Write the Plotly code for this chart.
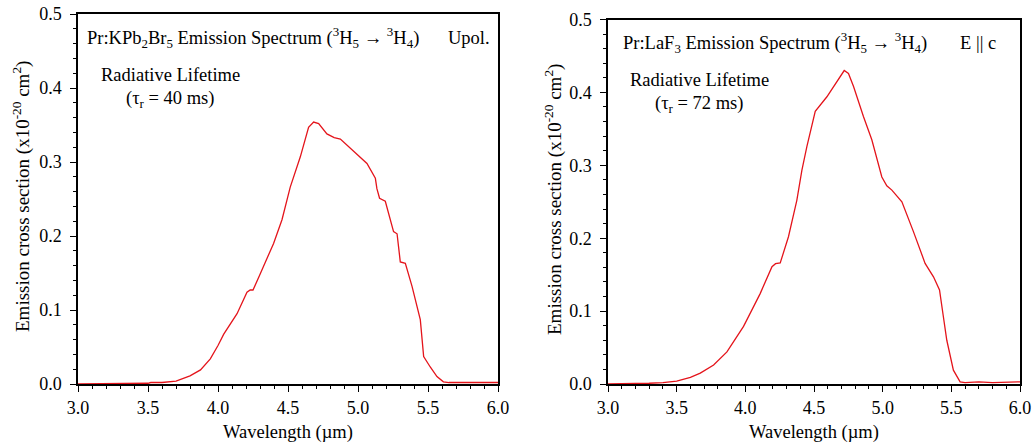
import plotly.graph_objects as go

# ---- data ----
wl_kpb = [3.0, 3.3, 3.5, 3.52, 3.6, 3.7, 3.75, 3.80, 3.875, 3.945, 4.0, 4.04, 4.136, 4.207,
          4.23, 4.25, 4.302, 4.397, 4.457, 4.516, 4.588, 4.647, 4.683, 4.719, 4.778, 4.83,
          4.874, 4.969, 5.064, 5.124, 5.135, 5.154, 5.18, 5.195, 5.254, 5.279, 5.29, 5.302,
          5.338, 5.386, 5.445, 5.469, 5.516, 5.564, 5.61, 5.65, 6.0]
sig_kpb = [0.0, 0.0, 0.001, 0.002, 0.002, 0.004, 0.007, 0.011, 0.019, 0.034, 0.052, 0.067,
           0.095, 0.124, 0.127, 0.127, 0.149, 0.190, 0.222, 0.266, 0.307, 0.347, 0.354,
           0.352, 0.338, 0.333, 0.331, 0.314, 0.298, 0.278, 0.264, 0.251, 0.249, 0.247,
           0.206, 0.203, 0.185, 0.165, 0.163, 0.132, 0.087, 0.037, 0.023, 0.010, 0.003,
           0.002, 0.002]

wl_laf = [3.0, 3.25, 3.3, 3.4, 3.5, 3.6, 3.672, 3.769, 3.866, 3.987, 4.108, 4.194, 4.22,
          4.254, 4.314, 4.375, 4.412, 4.448, 4.509, 4.594, 4.667, 4.72, 4.751, 4.788, 4.86,
          4.921, 4.994, 5.03, 5.067, 5.14, 5.224, 5.309, 5.37, 5.414, 5.44, 5.467, 5.515,
          5.564, 5.6, 5.7, 5.8, 5.9, 6.0]
sig_laf = [0.0, 0.0, 0.001, 0.002, 0.004, 0.009, 0.015, 0.026, 0.044, 0.079, 0.124, 0.161,
           0.165, 0.166, 0.202, 0.252, 0.2935, 0.3255, 0.374, 0.394, 0.415, 0.430, 0.426,
           0.408, 0.367, 0.335, 0.284, 0.272, 0.266, 0.250, 0.209, 0.1655, 0.147, 0.129,
           0.095, 0.060, 0.019, 0.003, 0.002, 0.003, 0.002, 0.003, 0.003]

x_ticks = [3.0, 3.5, 4.0, 4.5, 5.0, 5.5, 6.0]
y_ticks = [0.0, 0.1, 0.2, 0.3, 0.4, 0.5]

FONT = "Liberation Serif"
RED = "#e4141b"

fig = go.Figure()
fig.add_trace(go.Scatter(x=wl_kpb, y=sig_kpb, mode="lines", line=dict(color=RED, width=1.3),
                         xaxis="x", yaxis="y", showlegend=False))
fig.add_trace(go.Scatter(x=wl_laf, y=sig_laf, mode="lines", line=dict(color=RED, width=1.3),
                         xaxis="x2", yaxis="y2", showlegend=False))

W, H = 1035, 447
ML, MR, MT, MB = 78, 15, 14, 63
pw, ph = W - ML - MR, H - MT - MB

def xd(a, b):
    return [(a - ML) / pw, (b - ML) / pw]

def yd(top, bottom):
    return [(H - MB - bottom) / ph, (H - MB - top) / ph]

def axis_style(standoff):
    return dict(
        showline=True, linecolor="black", linewidth=1.5, mirror=True,
        ticks="outside", ticklen=6, tickwidth=1.3, tickcolor="black",
        showgrid=False, zeroline=False,
        tickfont=dict(family=FONT, size=18, color="black"),
        ticklabelstandoff=standoff,
        automargin=False,
    )

xminor = dict(dtick=0.1, ticks="outside", ticklen=3, tickwidth=1, tickcolor="black")
yminor = dict(dtick=0.02, ticks="outside", ticklen=3, tickwidth=1, tickcolor="black")

fig.update_layout(
    width=W, height=H,
    margin=dict(l=ML, r=MR, t=MT, b=MB),
    paper_bgcolor="white", plot_bgcolor="white",
    font=dict(family=FONT, color="black", size=18),
    xaxis=dict(domain=xd(78, 498), range=[3.0, 6.0], tickvals=x_ticks,
               ticktext=[f"{v:.1f}" for v in x_ticks], anchor="y", minor=xminor, **axis_style(1)),
    yaxis=dict(domain=yd(14, 384), range=[0.0, 0.5], tickvals=y_ticks,
               ticktext=[f"{v:.1f}" for v in y_ticks], anchor="x", minor=yminor, **axis_style(5)),
    xaxis2=dict(domain=xd(608, 1020), range=[3.0, 6.0], tickvals=x_ticks,
                ticktext=[f"{v:.1f}" for v in x_ticks], anchor="y2", minor=xminor, **axis_style(1)),
    yaxis2=dict(domain=yd(19.5, 384), range=[0.0, 0.5], tickvals=y_ticks,
                ticktext=[f"{v:.1f}" for v in y_ticks], anchor="x2", minor=yminor, **axis_style(5)),
)

ann = []
def txt(text, x, y, xref, yref, size=18.5, xanchor="center", angle=0):
    ann.append(dict(text=text, x=x, y=y, xref=xref, yref=yref, showarrow=False,
                    xanchor=xanchor, yanchor="middle", textangle=angle,
                    font=dict(family=FONT, size=size, color="black")))

def px_x(p):
    return (p - ML) / pw

def px_y(p):
    return (H - MB - p) / ph

ytitle = "Emission cross section (x10<sup>-20</sup> cm<sup>2</sup>)"
# axis titles
txt("Wavelength (µm)", px_x(288), px_y(432), "paper", "paper")
txt("Wavelength (µm)", px_x(814), px_y(432), "paper", "paper")
txt(ytitle, px_x(21), px_y(197), "paper", "paper", size=19, angle=-90)
txt(ytitle, px_x(553), px_y(200), "paper", "paper", size=19, angle=-90)

# in-plot labels, left panel
txt("Pr:KPb<sub>2</sub>Br<sub>5</sub> Emission Spectrum (<sup>3</sup>H<sub>5</sub> → <sup>3</sup>H<sub>4</sub>)",
    3.05, 0.4676, "x", "y", xanchor="left")
txt("Upol.", 5.79, 0.4676, "x", "y")
txt("Radiative Lifetime", 3.66, 0.4176, "x", "y")
txt("(τ<sub>r</sub> = 40 ms)", 3.66, 0.384, "x", "y")

# in-plot labels, right panel
txt("Pr:LaF<sub>3</sub> Emission Spectrum (<sup>3</sup>H<sub>5</sub> → <sup>3</sup>H<sub>4</sub>)",
    3.097, 0.4678, "x2", "y2", xanchor="left")
txt("E || c", 5.695, 0.4678, "x2", "y2")
txt("Radiative Lifetime", 3.665, 0.4167, "x2", "y2")
txt("(τ<sub>r</sub> = 72 ms)", 3.665, 0.384, "x2", "y2")

fig.update_layout(annotations=ann)
fig.write_html("out.html", config={"displayModeBar": False},
               post_script="document.body.style.margin='0';document.body.style.overflow='hidden';")
